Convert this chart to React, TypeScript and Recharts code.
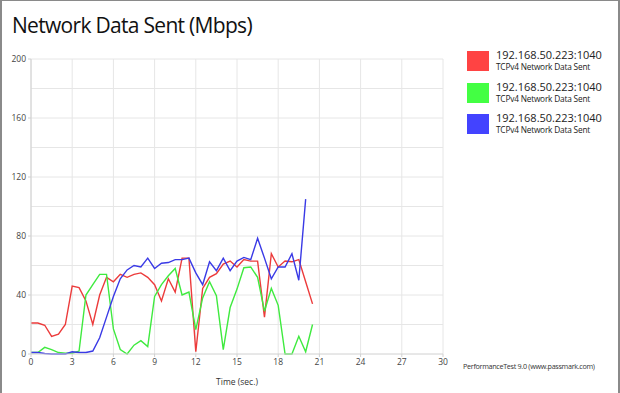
import { CartesianGrid, Line, LineChart, XAxis, YAxis } from 'recharts'

const times = [
  0, 0.5, 1, 1.5, 2, 2.5, 3, 3.5, 4, 4.5, 5, 5.5, 6, 6.5, 7, 7.5, 8, 8.5, 9, 9.5, 10,
  10.5, 11, 11.5, 12, 12.5, 13, 13.5, 14, 14.5, 15, 15.5, 16, 16.5, 17, 17.5, 18, 18.5,
  19, 19.5, 20, 20.5,
]

const redSent = [
  21, 21, 19.5, 12, 13.5, 20, 46, 45, 36, 20, 40, 52, 49, 54, 52, 54, 55, 52, 47, 36, 51,
  42, 65, 65, 1.5, 44.5, 52, 54.5, 61, 63, 59, 64, 63, 63, 25, 68, 59, 63, 62.5, 64, 49, 34,
]

const greenSent = [
  1, 1, 4.5, 3, 1, 0.5, 0.5, 2, 40, 47, 54, 54, 17, 3, 0, 6, 9, 5, 39, 47, 53, 58, 40, 42,
  16.5, 38, 49, 39.5, 3, 31.5, 44, 58.5, 59, 52, 29, 44.5, 33, 0, 0, 12, 1.5, 20,
]

const blueSent = [
  1, 1, 0.3, 0, 0, 0, 1.5, 1, 1, 2, 11, 25, 39, 51, 57, 60, 59, 65, 58, 61.5, 62, 64, 64,
  65, 55, 47, 62.5, 56.5, 65, 56.5, 63, 65.5, 64, 78.5, 65, 51, 59, 59, 68, 50, 105, null,
]

const xTicks = [0, 3, 6, 9, 12, 15, 18, 21, 24, 27, 30]
const yTicks = [0, 40, 80, 120, 160, 200]
const yGrid = [20, 40, 60, 80, 100, 120, 140, 160, 180, 200]

const seriesName = '192.168.50.223:1040'
const seriesSub = 'TCPv4 Network Data Sent'
const colors = ['#ff4343', '#43ff43', '#4343ff']
const lineColors = ['#ec3b3b', '#3fea3f', '#3a3ae6']

const font = "'Open Sans', sans-serif"

export default function App() {
  const data = times.map((t, i) => ({
    t,
    red: redSent[i],
    green: greenSent[i],
    blue: blueSent[i],
  }))

  return (
    <div
      style={{
        position: 'fixed',
        left: 0,
        top: 0,
        width: 620,
        height: 393,
        background: '#fff',
        fontFamily: font,
        overflow: 'hidden',
      }}
    >
      <div
        style={{
          position: 'absolute',
          left: 12,
          top: 11,
          fontSize: 21,
          letterSpacing: -0.7,
          color: '#111',
          whiteSpace: 'nowrap',
        }}
      >
        Network Data Sent (Mbps)
      </div>

      <LineChart
        width={620}
        height={393}
        data={data}
        margin={{ top: 59, right: 177, left: 6, bottom: 9 }}
        style={{ position: 'absolute', left: 0, top: 0 }}
      >
        <CartesianGrid
          stroke="#e6e6e6"
          horizontalValues={yGrid}
          verticalValues={xTicks}
        />
        <XAxis
          dataKey="t"
          type="number"
          domain={[0, 30]}
          ticks={xTicks}
          interval={0}
          height={30}
          stroke="#d0d0d0"
          tickSize={3}
          tick={{ fill: '#444', fontSize: 8.5, fontFamily: font }}
          label={{
            value: 'Time (sec.)',
            position: 'insideBottom',
            offset: -1,
            fill: '#333',
            fontSize: 8.5,
            fontFamily: font,
          }}
        />
        <YAxis
          type="number"
          domain={[0, 200]}
          ticks={yTicks}
          interval={0}
          width={25}
          stroke="#d0d0d0"
          tickSize={3}
          tick={{ fill: '#444', fontSize: 8.5, fontFamily: font }}
        />
        <Line
          dataKey="red"
          stroke={lineColors[0]}
          strokeWidth={1.4}
          dot={false}
          isAnimationActive={false}
        />
        <Line
          dataKey="green"
          stroke={lineColors[1]}
          strokeWidth={1.4}
          dot={false}
          isAnimationActive={false}
        />
        <Line
          dataKey="blue"
          stroke={lineColors[2]}
          strokeWidth={1.4}
          dot={false}
          isAnimationActive={false}
        />
      </LineChart>

      {colors.map((c, i) => (
        <div
          key={c}
          style={{ position: 'absolute', left: 467, top: 51 + i * 31.5, display: 'flex' }}
        >
          <div style={{ width: 22, height: 20, background: c }} />
          <div style={{ marginLeft: 7, marginTop: -3, whiteSpace: 'nowrap' }}>
            <div style={{ fontSize: 11, lineHeight: '14px', color: '#222' }}>{seriesName}</div>
            <div style={{ fontSize: 8.3, lineHeight: '10px', color: '#222', letterSpacing: -0.2 }}>
              {seriesSub}
            </div>
          </div>
        </div>
      ))}

      <div
        style={{
          position: 'absolute',
          left: 463,
          top: 361,
          fontSize: 7.2,
          letterSpacing: -0.3,
          color: '#333',
          whiteSpace: 'nowrap',
        }}
      >
        PerformanceTest 9.0 (www.passmark.com)
      </div>

      <div
        style={{
          position: 'absolute',
          inset: 0,
          borderLeft: '2px solid #8a8a8a',
          borderRight: '2px solid #8a8a8a',
          borderTop: '1px solid #8a8a8a',
          pointerEvents: 'none',
        }}
      />
    </div>
  )
}
